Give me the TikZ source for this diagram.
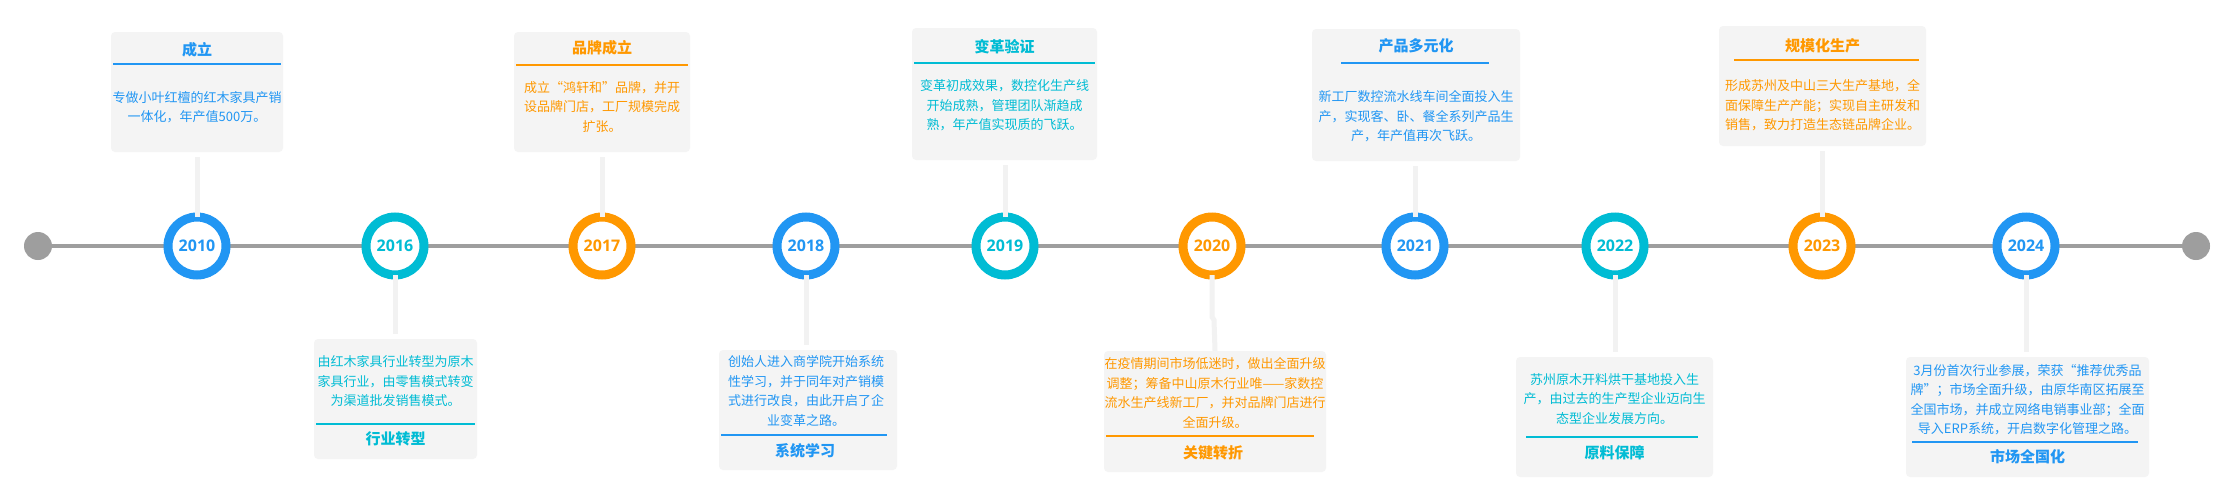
\documentclass[tikz,border=0pt]{standalone}
\usepackage{fontspec}
\newfontfamily\cjk{Noto Sans CJK SC}
\newfontfamily\yearf{Open Sans}
\definecolor{cblue}{HTML}{2196F3}
\definecolor{ccyan}{HTML}{00BCD4}
\definecolor{corange}{HTML}{FF9800}
\definecolor{lgray}{HTML}{9E9E9E}
\definecolor{boxgray}{HTML}{F4F4F4}
\definecolor{conngray}{HTML}{F2F2F2}
\begin{document}
\begin{tikzpicture}[x=1pt,y=-1pt,
  box/.style={fill=boxgray, rounded corners=4pt, inner sep=0pt, draw=none},
  ring/.style={circle, draw=#1, line width=9pt, fill=white, minimum size=58pt, inner sep=0pt, text=#1, font=\yearf\bfseries\fontsize{16}{16}\selectfont},
  enddot/.style={circle, fill=lgray, minimum size=28pt, inner sep=0pt},
  tline/.style={draw=lgray, line width=3.5pt},
  conn/.style={draw=conngray, line width=5pt},
  ttl/.style={text=#1, font=\cjk\bfseries\fontsize{15}{15}\selectfont, inner sep=0pt},
  body/.style={text=#1, font=\cjk\fontsize{13}{19.5}\selectfont, align=center, inner sep=0pt},
  brule/.style={draw=#1, line width=2pt}]
\useasboundingbox[fill=white] (0,0) rectangle (2234,501);

% timeline
\node[enddot] (ldot) at (38,246) {};
\node[enddot] (rdot) at (2196,246) {};
\draw[tline] (ldot) -- (rdot);

% boxes (top)
\node[box, minimum width=172pt, minimum height=120pt] (b2010) at (197,92) {};
\node[box, minimum width=176pt, minimum height=120pt] (b2017) at (602,92) {};
\node[box, minimum width=185pt, minimum height=132pt] (b2019) at (1004.5,94) {};
\node[box, minimum width=208pt, minimum height=132pt] (b2021) at (1416,95) {};
\node[box, minimum width=207pt, minimum height=120pt] (b2023) at (1822.5,86) {};
% boxes (bottom)
\node[box, minimum width=163pt, minimum height=120pt] (b2016) at (395.5,399) {};
\node[box, minimum width=178pt, minimum height=120pt] (b2018) at (808,410) {};
\node[box, minimum width=222pt, minimum height=121pt] (b2020) at (1215,411.5) {};
\node[box, minimum width=197pt, minimum height=120pt] (b2022) at (1614.5,417) {};
\node[box, minimum width=243pt, minimum height=120pt] (b2024) at (2027.5,417) {};

% rings
\node[ring=cblue] (y2010) at (197,246) {2010};
\node[ring=ccyan] (y2016) at (395,246) {2016};
\node[ring=corange] (y2017) at (602,246) {2017};
\node[ring=cblue] (y2018) at (806,246) {2018};
\node[ring=ccyan] (y2019) at (1005,246) {2019};
\node[ring=corange] (y2020) at (1212,246) {2020};
\node[ring=cblue] (y2021) at (1415,246) {2021};
\node[ring=ccyan] (y2022) at (1615,246) {2022};
\node[ring=corange] (y2023) at (1822,246) {2023};
\node[ring=cblue] (y2024) at (2026,246) {2024};

% connectors (top)
\foreach \n in {2010,2017,2019,2021,2023}{
  \draw[conn] ([yshift=-4.5pt]y\n.north) -- ([yshift=-4.5pt]y\n.north |- b\n.south);
}
% connectors (bottom)
\foreach \n in {2016,2018,2022,2024}{
  \draw[conn] ([yshift=4.5pt]y\n.south) -- ([yshift=4.5pt]y\n.south |- b\n.north);
}
\draw[conn] ([yshift=4.5pt]y2020.south) -- ++(0,42) -- ++(2,3) -- (b2020.north);

% ---- 2010
\node[ttl=cblue] (t2010) at (197,50) {成立};
\draw[brule=cblue] (113,64) -- (281,64);
\node[body=cblue] (d2010) at (197,107) {专做小叶红檀的红木家具产销\\一体化，年产值500万。};
% ---- 2017
\node[ttl=corange] (t2017) at (602,48) {品牌成立};
\draw[brule=corange] (516,65) -- (688,65);
\node[body=corange] (d2017) at (602,107) {成立“鸿轩和”品牌，并开\\设品牌门店，工厂规模完成\\扩张。};
% ---- 2019
\node[ttl=ccyan] (t2019) at (1004.5,47) {变革验证};
\draw[brule=ccyan] (914,63) -- (1095,63);
\node[body=ccyan] (d2019) at (1004.5,105.5) {变革初成效果，数控化生产线\\开始成熟，管理团队渐趋成\\熟，年产值实现质的飞跃。};
% ---- 2021
\node[ttl=cblue] (t2021) at (1416,46) {产品多元化};
\draw[brule=cblue] (1341,63) -- (1489,63);
\node[body=cblue] (d2021) at (1416,116.5) {新工厂数控流水线车间全面投入生\\产，实现客、卧、餐全系列产品生\\产，年产值再次飞跃。};
% ---- 2023
\node[ttl=corange] (t2023) at (1822.5,46) {规模化生产};
\draw[brule=corange] (1734,60) -- (1919,60);
\node[body=corange] (d2023) at (1822.5,105.5) {形成苏州及中山三大生产基地，全\\面保障生产产能；实现自主研发和\\销售，致力打造生态链品牌企业。};

% ---- 2016
\node[body=ccyan] (d2016) at (395.5,381.5) {由红木家具行业转型为原木\\家具行业，由零售模式转变\\为渠道批发销售模式。};
\draw[brule=ccyan] (316,424) -- (475,424);
\node[ttl=ccyan] (t2016) at (395.5,439) {行业转型};
% ---- 2018
\node[body=cblue] (d2018) at (806,391) {创始人进入商学院开始系统\\性学习，并于同年对产销模\\式进行改良，由此开启了企\\业变革之路。};
\draw[brule=cblue] (721,435) -- (887,435);
\node[ttl=cblue] (t2018) at (805,451) {系统学习};
% ---- 2020
\node[body=corange] (d2020) at (1215,393) {在疫情期间市场低迷时，做出全面升级\\调整；筹备中山原木行业唯——家数控\\流水生产线新工厂，并对品牌门店进行\\全面升级。};
\draw[brule=corange] (1106,436) -- (1314,436);
\node[ttl=corange] (t2020) at (1213,453) {关键转折};
% ---- 2022
\node[body=ccyan] (d2022) at (1614.5,399) {苏州原木开料烘干基地投入生\\产，由过去的生产型企业迈向生\\态型企业发展方向。};
\draw[brule=ccyan] (1526,437) -- (1698,437);
\node[ttl=ccyan] (t2022) at (1614.5,453) {原料保障};
% ---- 2024
\node[body=cblue] (d2024) at (2027.5,399.5) {3月份首次行业参展，荣获“推荐优秀品\\牌”；市场全面升级，由原华南区拓展至\\全国市场，并成立网络电销事业部；全面\\导入ERP系统，开启数字化管理之路。};
\draw[brule=cblue] (1912,442) -- (2138,442);
\node[ttl=cblue] (t2024) at (2027.5,457) {市场全国化};
\end{tikzpicture}
\end{document}
